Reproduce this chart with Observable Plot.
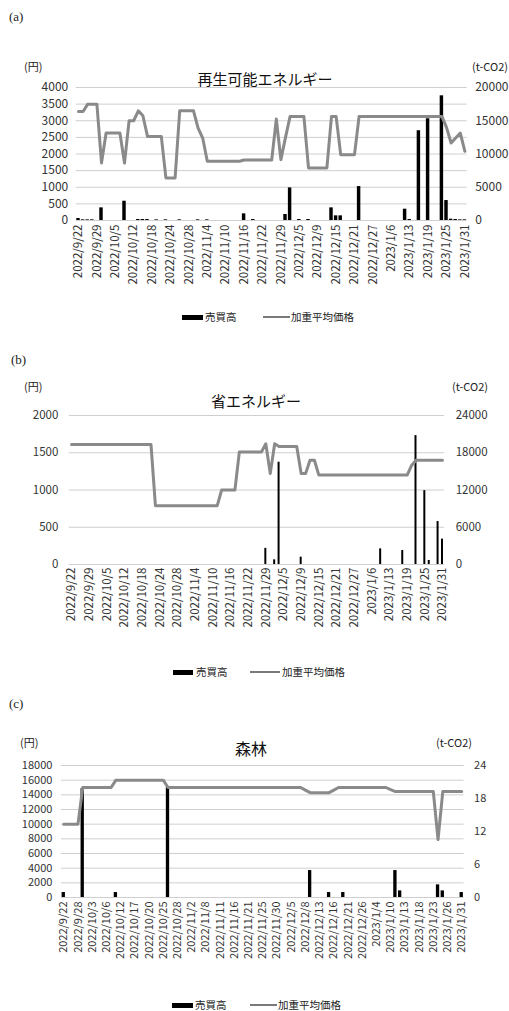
<!DOCTYPE html>
<html>
<head>
<meta charset="utf-8">
<script src="https://cdn.jsdelivr.net/npm/d3@7"></script>
<script src="https://cdn.jsdelivr.net/npm/@observablehq/plot@0.6"></script>
<style>
  html, body { margin: 0; padding: 0; background: #fff; }
  #root { position: relative; width: 509px; height: 1011px; overflow: hidden; font-family: "Noto Sans CJK JP", "Noto Sans", sans-serif; color: #222; }
  .t { position: absolute; white-space: nowrap; line-height: 1; }
  .panel { position: absolute; left: 0; }
</style>
</head>
<body>
<div id="root"></div>
<script>
// ---- categories: trading days ----
const dates = [
  "2022/9/22","2022/9/26","2022/9/27","2022/9/28","2022/9/29","2022/9/30",
  "2022/10/3","2022/10/4","2022/10/5","2022/10/6","2022/10/7","2022/10/11","2022/10/12","2022/10/13","2022/10/14",
  "2022/10/17","2022/10/18","2022/10/19","2022/10/20","2022/10/21","2022/10/24","2022/10/25","2022/10/26","2022/10/27","2022/10/28","2022/10/31",
  "2022/11/1","2022/11/2","2022/11/4","2022/11/7","2022/11/8","2022/11/9","2022/11/10","2022/11/11","2022/11/14","2022/11/15",
  "2022/11/16","2022/11/17","2022/11/18","2022/11/21","2022/11/22","2022/11/24","2022/11/25","2022/11/28","2022/11/29","2022/11/30",
  "2022/12/1","2022/12/2","2022/12/5","2022/12/6","2022/12/7","2022/12/8","2022/12/9","2022/12/12","2022/12/13","2022/12/14",
  "2022/12/15","2022/12/16","2022/12/19","2022/12/20","2022/12/21","2022/12/22","2022/12/23","2022/12/26","2022/12/27","2022/12/28",
  "2023/1/4","2023/1/5","2023/1/6","2023/1/10","2023/1/11","2023/1/12","2023/1/13","2023/1/16","2023/1/17","2023/1/18",
  "2023/1/19","2023/1/20","2023/1/23","2023/1/24","2023/1/25","2023/1/26","2023/1/27","2023/1/30","2023/1/31"
];

// ---- tick labels ----
const ticksAB = ["2022/9/22","2022/9/29","2022/10/5","2022/10/12","2022/10/18","2022/10/24","2022/10/28","2022/11/4",
  "2022/11/10","2022/11/16","2022/11/22","2022/11/29","2022/12/5","2022/12/9","2022/12/15","2022/12/21","2022/12/27",
  "2023/1/6","2023/1/13","2023/1/19","2023/1/25","2023/1/31"];
const ticksC = ["2022/9/22","2022/9/28","2022/10/3","2022/10/6","2022/10/12","2022/10/17","2022/10/20","2022/10/25",
  "2022/10/28","2022/11/2","2022/11/8","2022/11/11","2022/11/16","2022/11/21","2022/11/25","2022/11/30","2022/12/5",
  "2022/12/8","2022/12/13","2022/12/16","2022/12/21","2022/12/26","2023/1/4","2023/1/10","2023/1/13","2023/1/18",
  "2023/1/23","2023/1/26","2023/1/31"];
const yTicksA = [0,500,1000,1500,2000,2500,3000,3500,4000];
const rTicksA = [0,5000,10000,15000,20000];
const yTicksB = [0,500,1000,1500,2000];
const rTicksB = [0,6000,12000,18000,24000];
const yTicksC = [0,2000,4000,6000,8000,10000,12000,14000,16000,18000];
const rTicksC = [0,6,12,18,24];

// ---- (a) 再生可能エネルギー ----
const priceRenew = [
  3280,3280,3500,3500,3500,1730,2630,2630,2630,2630,
  1730,3000,3000,3300,3150,2530,2530,2530,2530,1280,
  1280,1280,3300,3300,3300,3300,2780,2480,1780,1780,
  1780,1780,1780,1780,1780,1780,1820,1820,1820,1820,
  1820,1820,1820,3050,1830,2500,3130,3130,3130,3130,
  1580,1580,1580,1580,1580,3130,3130,1980,1980,1980,
  1980,3130,3130,3130,3130,3130,3130,3130,3130,3130,
  3130,3130,3130,3130,3130,3130,3130,3130,3130,3130,
  2800,2330,2480,2630,2080];
const volRenew = [
  300,100,100,100,0,1900,0,0,0,0,
  2900,0,0,150,150,150,0,100,0,100,
  0,0,100,0,0,0,100,0,100,0,
  0,0,0,0,0,0,1000,0,150,0,
  0,0,0,0,0,900,4900,0,150,0,
  150,0,0,0,0,1900,700,700,0,0,
  0,5100,0,0,0,0,0,0,0,0,
  0,1700,150,0,13500,0,15300,0,0,18750,
  3000,200,150,100,100];

// ---- (b) 省エネルギー ----
const priceSave = [
  1610,1610,1610,1610,1610,1610,1610,1610,1610,1610,
  1610,1610,1610,1610,1610,1610,1610,1610,1610,790,
  790,790,790,790,790,790,790,790,790,790,
  790,790,790,790,1000,1000,1000,1000,1510,1510,
  1510,1510,1510,1510,1620,1220,1620,1585,1585,1585,
  1585,1585,1220,1220,1400,1400,1200,1200,1200,1200,
  1200,1200,1200,1200,1200,1200,1200,1200,1200,1200,
  1200,1200,1200,1200,1200,1200,1200,1330,1400,1400,
  1400,1400,1400,1400,1400];
const volSave = [
  0,0,0,0,0,0,0,0,0,0,
  0,0,0,0,0,0,0,0,0,0,
  0,0,0,0,0,0,0,0,0,0,
  0,0,0,0,0,0,0,0,0,0,
  0,0,0,0,2600,0,750,16470,0,0,
  0,0,1180,0,0,0,0,0,0,0,
  0,0,0,0,0,0,0,0,0,0,
  2520,0,0,0,0,2250,0,0,20760,0,
  11900,650,0,6920,4080];

// ---- (c) 森林 ----
const priceForest = [
  10000,10000,10000,10000,15000,15000,15000,15000,15000,15000,
  15000,16000,16000,16000,16000,16000,16000,16000,16000,16000,
  16000,16000,15000,15000,15000,15000,15000,15000,15000,15000,
  15000,15000,15000,15000,15000,15000,15000,15000,15000,15000,
  15000,15000,15000,15000,15000,15000,15000,15000,15000,15000,
  15000,14650,14300,14300,14300,14300,14300,14650,15000,15000,
  15000,15000,15000,15000,15000,15000,15000,15000,15000,14700,
  14450,14450,14450,14450,14450,14450,14450,14450,14450,7900,
  14450,14450,14450,14450,14450];
const volForest = [
  0.9,0,0,0,19.8,0,0,0,0,0,
  0,0.9,0,0,0,0,0,0,0,0,
  0,0,20,0,0,0,0,0,0,0,
  0,0,0,0,0,0,0,0,0,0,
  0,0,0,0,0,0,0,0,0,0,
  0,0,4.9,0,0,0,0.9,0,0,0.9,
  0,0,0,0,0,0,0,0,0,0,
  4.9,1.2,0,0,0,0,0,0,0,2.3,
  1.2,0,0,0,0.9];

const seriesNames = ["売買高", "加重平均価格"];

const root = document.getElementById("root");
const FONT = "'Noto Sans CJK JP', 'Noto Sans', sans-serif";

function txt(s, x, y, {size = 11, anchor = "left", family = FONT, color = "#222"} = {}) {
  const d = document.createElement("div");
  d.className = "t";
  d.textContent = s;
  d.style.fontSize = size + "px";
  d.style.fontFamily = family;
  d.style.color = color;
  d.style.top = y + "px";
  d.style.left = x + "px";
  const tx = anchor === "center" ? "-50%" : anchor === "right" ? "-100%" : "0";
  d.style.transform = `translate(${tx}, -50%)`;
  root.appendChild(d);
}
function swatch(x1, x2, y, h, color) {
  const d = document.createElement("div");
  d.style.position = "absolute";
  d.style.left = x1 + "px";
  d.style.width = (x2 - x1) + "px";
  d.style.top = (y - h / 2) + "px";
  d.style.height = h + "px";
  d.style.background = color;
  root.appendChild(d);
}

function panel(p) {
  const rows = dates.map((d, i) => ({date: d, price: p.price[i], vol: p.vol[i]}));
  const k = p.k;
  const chart = Plot.plot({
    width: 509, height: p.height,
    marginLeft: p.ml, marginRight: p.mr, marginTop: p.mt, marginBottom: p.mb,
    style: {fontFamily: FONT, background: "transparent", color: "#333", overflow: "visible"},
    x: {type: "band", domain: dates, paddingInner: p.barPad, paddingOuter: p.barPad / 2, axis: null},
    y: {domain: [0, p.yMax], axis: null},
    marks: [
      Plot.gridY(p.yTicks, {stroke: "#cfcfcf", strokeOpacity: 1, strokeWidth: 1}),
      Plot.barY(rows.filter(r => r.vol > 0), {x: "date", y: r => r.vol * k, fill: "#000"}),
      Plot.lineY(rows, {x: "date", y: "price", stroke: "#8a8a8a", strokeWidth: 3, strokeLinejoin: "round"}),
      Plot.axisY(p.yTicks, {anchor: "left", tickSize: 0, tickPadding: p.padL, fontSize: p.fs, color: "#333", label: null,
        tickFormat: v => String(v)}),
      Plot.axisY(p.rTicks.map(v => v * k), {anchor: "right", tickSize: 0, tickPadding: p.padR, fontSize: p.fs, color: "#333", label: null,
        tickFormat: v => String(Math.round(v / k))}),
      Plot.axisX(p.xTicks, {anchor: "bottom", tickRotate: -90, tickSize: 0, tickPadding: p.padX, fontSize: p.fx, color: "#333", label: null})
    ]
  });
  const wrap = document.createElement("div");
  wrap.className = "panel";
  wrap.style.top = p.top + "px";
  wrap.appendChild(chart);
  root.appendChild(wrap);
}

// (a)
txt("(a)", 9, 16, {size: 13, family: "'Liberation Serif', 'DejaVu Serif', serif"});
txt("(円)", 24, 66, {size: 11});
txt("(t-CO2)", 472, 66, {size: 11});
txt("再生可能エネルギー", 265, 78, {size: 15, anchor: "center", color: "#111"});
panel({top: 65, height: 235, mt: 22, mb: 80, ml: 75.7, mr: 42.3, padL: 8, padR: 8, padX: 4,
  yMax: 4000, yTicks: yTicksA, rTicks: rTicksA, k: 0.2, barPad: 0.25, fs: 12, fx: 11.5,
  price: priceRenew, vol: volRenew, xTicks: ticksAB});
swatch(182, 203, 317, 5, "#000");
txt(seriesNames[0], 205, 317, {size: 10.5});
swatch(263, 290, 317, 2, "#7a7a7a");
txt(seriesNames[1], 291, 317, {size: 10.5});

// (b)
txt("(b)", 11, 359, {size: 13, family: "'Liberation Serif', 'DejaVu Serif', serif"});
txt("(円)", 24, 386, {size: 11});
txt("(t-CO2)", 452, 386, {size: 11});
txt("省エネルギー", 256, 400, {size: 15, anchor: "center", color: "#111"});
panel({top: 395, height: 249, mt: 20, mb: 80, ml: 68.8, mr: 64.8, padL: 11, padR: 11, padX: 3,
  yMax: 2000, yTicks: yTicksB, rTicks: rTicksB, k: 1 / 12, barPad: 0.55, fs: 11.5, fx: 11.5,
  price: priceSave, vol: volSave, xTicks: ticksAB});
swatch(173, 193, 672, 5, "#000");
txt(seriesNames[0], 196, 672, {size: 10.5});
swatch(250, 280, 672, 2, "#7a7a7a");
txt(seriesNames[1], 282, 672, {size: 10.5});

// (c)
txt("(c)", 9, 703, {size: 13, family: "'Liberation Serif', 'DejaVu Serif', serif"});
txt("(円)", 20, 742, {size: 11});
txt("(t-CO2)", 436, 742, {size: 11});
txt("森林", 251, 748, {size: 16, anchor: "center", color: "#111"});
panel({top: 752, height: 215, mt: 13, mb: 70, ml: 60.9, mr: 45.4, padL: 9, padR: 10, padX: 4,
  yMax: 18000, yTicks: yTicksC, rTicks: rTicksC, k: 750, barPad: 0.3, fs: 11, fx: 11,
  price: priceForest, vol: volForest, xTicks: ticksC});
swatch(172, 193, 1005, 5, "#000");
txt(seriesNames[0], 195, 1005, {size: 10.5});
swatch(250, 277, 1005, 2, "#7a7a7a");
txt(seriesNames[1], 278, 1005, {size: 10.5});
</script>
</body>
</html>
